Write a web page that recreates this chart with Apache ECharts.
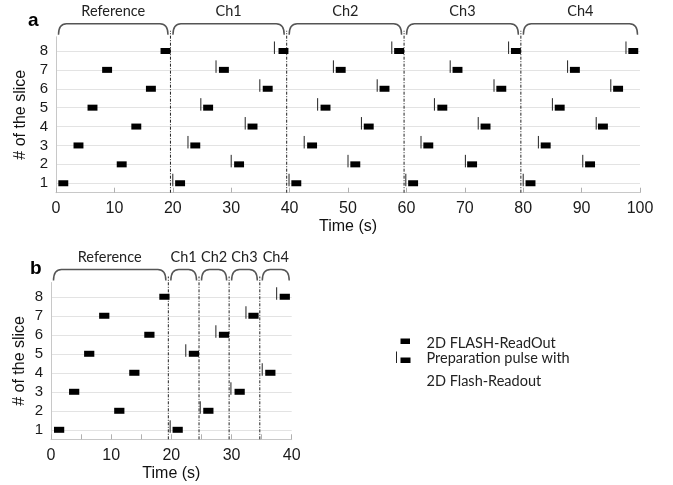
<!DOCTYPE html>
<html>
<head>
<meta charset="utf-8">
<script src="https://cdn.jsdelivr.net/npm/echarts@6/dist/echarts.min.js"></script>
<style>
  html, body { margin: 0; padding: 0; background: #fff; }
  #main { width: 673px; height: 485px; }
</style>
</head>
<body>
<div id="main"></div>
<script>
// slice numbers (index i of every start array belongs to slices[i])
var slices = [1, 2, 3, 4, 5, 6, 7, 8];
var readDur = 1.7; // length of one 2D FLASH readout, s

// panel a - readout start times (s)
var aRef = [0.4, 10.4, 3.0, 12.9, 5.4, 15.4, 7.9, 17.9];
var aCh1 = [20.4, 30.5, 23.0, 32.8, 25.2, 35.4, 27.9, 38.1];
var aCh2 = [40.3, 50.4, 43.0, 52.7, 45.3, 55.4, 47.9, 57.9];
var aCh3 = [60.3, 70.4, 62.9, 72.7, 65.3, 75.4, 67.9, 77.9];
var aCh4 = [80.4, 90.6, 83.0, 92.8, 85.4, 95.4, 88.0, 98.0];
// panel a - preparation pulse times (s)
var aPulse1 = [20.0, 30.0, 22.6, 32.4, 24.8, 34.9, 27.4, 37.4];
var aPulse2 = [39.9, 50.0, 42.5, 52.3, 44.8, 55.0, 47.5, 57.5];
var aPulse3 = [59.9, 70.1, 62.5, 72.3, 64.8, 75.0, 67.5, 77.5];
var aPulse4 = [80.0, 90.2, 82.6, 92.5, 85.0, 95.0, 87.6, 97.6];
var aBounds = [0, 19.6, 39.5, 59.6, 79.6, 100];
var aLabels = ['Reference', 'Ch1', 'Ch2', 'Ch3', 'Ch4'];

// panel b
var bRef = [0.5, 10.5, 3.0, 13.0, 5.5, 15.5, 8.0, 18.0];
var bChSlices = [1, 5, 2, 6, 3, 7, 4, 8];
var bChStart = [20.2, 22.9, 25.3, 27.9, 30.5, 32.8, 35.6, 38.0];
var bChPulse = [19.8, 22.4, 24.8, 27.4, 29.9, 32.4, 35.1, 37.5];
var bBounds = [0, 19.5, 24.6, 29.6, 34.7, 40];
var bLabels = ['Reference', 'Ch1', 'Ch2', 'Ch3', 'Ch4'];

var Y_TOP = 8.75;

function blocks(starts, sl) {
  return starts.map(function (t, i) { return [t, t + readDur, sl[i]]; });
}
function pulses(times, sl) {
  return times.map(function (t, i) { return [t, sl[i]]; });
}

var readA = [].concat(blocks(aRef, slices), blocks(aCh1, slices), blocks(aCh2, slices),
  blocks(aCh3, slices), blocks(aCh4, slices));
var pulseA = [].concat(pulses(aPulse1, slices), pulses(aPulse2, slices),
  pulses(aPulse3, slices), pulses(aPulse4, slices));
var readB = [].concat(blocks(bRef, slices), blocks(bChStart, bChSlices));
var pulseB = pulses(bChPulse, bChSlices);

function renderBlock(params, api) {
  var p0 = api.coord([api.value(0), api.value(2)]);
  var p1 = api.coord([api.value(1), api.value(2)]);
  return {
    type: 'rect',
    shape: { x: p0[0], y: p0[1] - 3, width: p1[0] - p0[0], height: 6 },
    style: { fill: '#000' }
  };
}

function renderPulse(params, api) {
  var p = api.coord([api.value(0), api.value(1)]);
  return {
    type: 'line',
    shape: { x1: p[0], y1: p[1] + 3, x2: p[0], y2: p[1] - 9.5 },
    style: { stroke: '#222', lineWidth: 1 }
  };
}

function renderDivider(params, api) {
  var pb = api.coord([api.value(0), 0.5]);
  var pt = api.coord([api.value(0), Y_TOP]);
  return {
    type: 'line',
    shape: { x1: pb[0], y1: pb[1], x2: pt[0], y2: pt[1] - 6 },
    style: { stroke: '#222', lineWidth: 1, lineDash: [3, 1.5, 1, 1.5] }
  };
}

function braceRenderer(labels) {
  return function (params, api) {
    var x0 = api.coord([api.value(0), Y_TOP])[0] + 2.5;
    var x1 = api.coord([api.value(1), Y_TOP])[0] - 2.5;
    var top = api.coord([api.value(0), Y_TOP])[1];
    var yb = top - 2, yt = top - 13, r = 8;
    var d = 'M' + x0 + ',' + yb + ' Q' + x0 + ',' + yt + ' ' + (x0 + r) + ',' + yt +
      ' L' + (x1 - r) + ',' + yt + ' Q' + x1 + ',' + yt + ' ' + x1 + ',' + yb;
    return {
      type: 'group',
      children: [
        { type: 'path', shape: { pathData: d }, style: { stroke: '#555', lineWidth: 1.5, fill: null } },
        {
          type: 'text',
          style: {
            text: labels[params.dataIndex], x: (x0 + x1) / 2, y: yt - 12,
            align: 'center', verticalAlign: 'middle',
            font: '14.5px Lato', fill: '#222'
          }
        }
      ]
    };
  };
}

function yAxisCfg(idx, gap) {
  return {
    type: 'value', gridIndex: idx, min: 0.5, max: Y_TOP, minInterval: 1, maxInterval: 1,
    name: '# of the slice', nameLocation: 'middle', nameGap: gap,
    nameTextStyle: { fontFamily: 'Liberation Sans', fontSize: 16, color: '#111' },
    axisLine: { show: true, lineStyle: { color: '#c8c8c8' } },
    axisTick: { show: false },
    axisLabel: {
      fontFamily: 'Liberation Sans', fontSize: 15, color: '#1a1a1a', margin: 8,
      showMinLabel: false, showMaxLabel: false,
      formatter: function (v) { return Math.abs(v - Math.round(v)) < 1e-6 ? String(Math.round(v)) : ''; }
    },
    splitLine: { show: true, showMinLine: false, showMaxLine: false, lineStyle: { color: '#e3e3e3' } }
  };
}

function xAxisCfg(idx, max, interval, labelStep, gap) {
  return {
    type: 'value', gridIndex: idx, min: 0, max: max, interval: interval,
    name: 'Time (s)', nameLocation: 'middle', nameGap: gap,
    nameTextStyle: { fontFamily: 'Liberation Sans', fontSize: 16, color: '#111' },
    axisLine: { lineStyle: { color: '#c8c8c8' } },
    axisTick: { inside: true, length: 5, lineStyle: { color: '#b0b0b0' } },
    axisLabel: {
      fontFamily: 'Liberation Sans', fontSize: 16, color: '#1a1a1a', margin: 8,
      formatter: function (v) { return v % labelStep === 0 ? String(v) : ''; }
    },
    splitLine: { show: false }
  };
}

var chart = echarts.init(document.getElementById('main'), null, { renderer: 'canvas' });

chart.setOption({
  animation: false,
  backgroundColor: '#fff',
  grid: [
    { left: 56, right: 33, top: 36.8, bottom: 292.3 },
    { left: 51, right: 381.3, top: 282.5, bottom: 45.7 }
  ],
  xAxis: [xAxisCfg(0, 100, 10, 10, 26), xAxisCfg(1, 40, 5, 10, 26)],
  yAxis: [yAxisCfg(0, 26), yAxisCfg(1, 23)],
  graphic: [
    { type: 'text', left: 28, top: 11, style: { text: 'a', font: 'bold 19px Liberation Sans', fill: '#000' } },
    { type: 'text', left: 30, top: 259, style: { text: 'b', font: 'bold 19px Liberation Sans', fill: '#000' } },
    // legend
    { type: 'rect', shape: { x: 400.5, y: 338.5, width: 9.5, height: 5.5 }, style: { fill: '#000' } },
    { type: 'text', style: { text: '2D FLASH-ReadOut', x: 426.5, y: 343, font: '14.5px Lato', fill: '#222', verticalAlign: 'middle' } },
    { type: 'line', shape: { x1: 396.5, y1: 351.5, x2: 396.5, y2: 363 }, style: { stroke: '#222', lineWidth: 1 } },
    { type: 'rect', shape: { x: 400.5, y: 357.5, width: 10, height: 5.5 }, style: { fill: '#000' } },
    { type: 'text', style: { text: 'Preparation pulse with', x: 426.5, y: 358, font: '14.5px Lato', fill: '#222', verticalAlign: 'middle' } },
    { type: 'text', style: { text: '2D Flash-Readout', x: 426.5, y: 381, font: '14.5px Lato', fill: '#222', verticalAlign: 'middle' } }
  ],
  series: [
    { name: 'Segment a', type: 'custom', xAxisIndex: 0, yAxisIndex: 0, clip: false, silent: true,
      renderItem: renderDivider, data: aBounds.slice(1, -1).map(function (t) { return [t]; }), encode: { x: 0 } },
    { name: 'Brace a', type: 'custom', xAxisIndex: 0, yAxisIndex: 0, clip: false, silent: true,
      renderItem: braceRenderer(aLabels), data: aLabels.map(function (l, i) { return [aBounds[i], aBounds[i + 1]]; }), encode: { x: [0, 1] } },
    { name: '2D FLASH-ReadOut', type: 'custom', xAxisIndex: 0, yAxisIndex: 0,
      renderItem: renderBlock, data: readA, encode: { x: [0, 1], y: 2 } },
    { name: 'Preparation pulse', type: 'custom', xAxisIndex: 0, yAxisIndex: 0, clip: false,
      renderItem: renderPulse, data: pulseA, encode: { x: 0, y: 1 } },

    { name: 'Segment b', type: 'custom', xAxisIndex: 1, yAxisIndex: 1, clip: false, silent: true,
      renderItem: renderDivider, data: bBounds.slice(1, -1).map(function (t) { return [t]; }), encode: { x: 0 } },
    { name: 'Brace b', type: 'custom', xAxisIndex: 1, yAxisIndex: 1, clip: false, silent: true,
      renderItem: braceRenderer(bLabels), data: bLabels.map(function (l, i) { return [bBounds[i], bBounds[i + 1]]; }), encode: { x: [0, 1] } },
    { name: '2D FLASH-ReadOut b', type: 'custom', xAxisIndex: 1, yAxisIndex: 1,
      renderItem: renderBlock, data: readB, encode: { x: [0, 1], y: 2 } },
    { name: 'Preparation pulse b', type: 'custom', xAxisIndex: 1, yAxisIndex: 1, clip: false,
      renderItem: renderPulse, data: pulseB, encode: { x: 0, y: 1 } }
  ]
});
</script>
</body>
</html>
